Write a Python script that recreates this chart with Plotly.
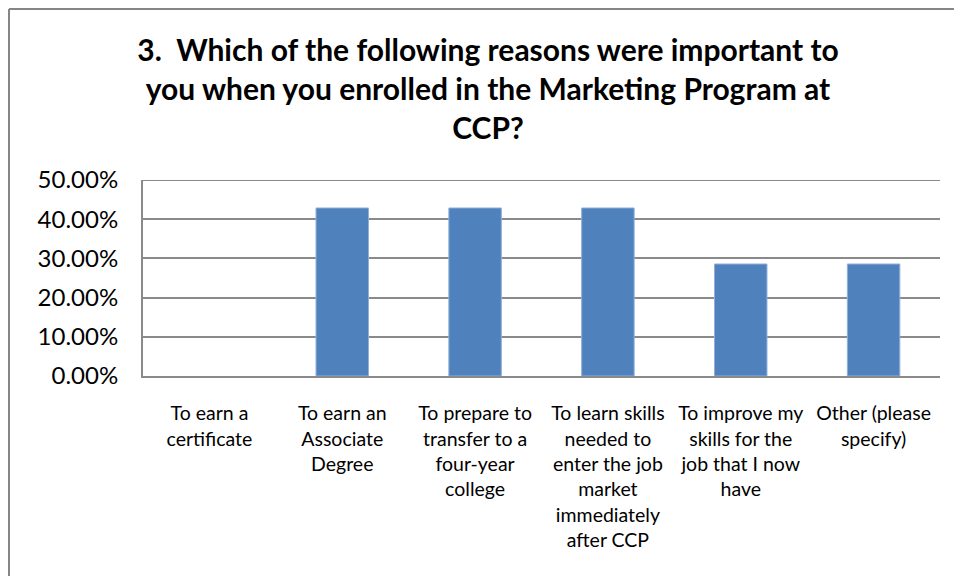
import plotly.graph_objects as go

# Survey question 3: share of respondents citing each reason
categories = [
    "To earn a<br>certificate",
    "To earn an<br>Associate<br>Degree",
    "To prepare to<br>transfer to a<br>four-year<br>college",
    "To learn skills<br>needed to<br>enter the job<br>market<br>immediately<br>after CCP",
    "To improve my<br>skills for the<br>job that I now<br>have",
    "Other (please<br>specify)",
]
shares = [0.0, 0.4286, 0.4286, 0.4286, 0.2857, 0.2857]
y_ticks = [0.0, 0.1, 0.2, 0.3, 0.4, 0.5]

title_text = ("3.  Which of the following reasons were important to<br>"
              "you when you enrolled in the Marketing Program at<br>CCP?")

FONT = "Lato, 'Open Sans', sans-serif"
GRID = "#8a8a8a"
FRAME = "#868686"

fig = go.Figure(
    go.Bar(
        x=categories,
        y=shares,
        marker=dict(
            color="#4F81BD",
            # light outline only on bars that have height
            line=dict(color="#8FB0DA", width=[1 if v > 0 else 0 for v in shares]),
        ),
        hoverinfo="skip",
    )
)

fig.update_layout(
    width=954,
    height=576,
    margin=dict(l=143, r=14, t=180, b=200),
    paper_bgcolor="white",
    plot_bgcolor="white",
    bargap=0.605,
    showlegend=False,
    font=dict(family=FONT, color="#000000"),
    title=dict(
        text=title_text,
        font=dict(family=FONT, size=30, color="#000000", weight=700),
        x=488 / 954,
        xanchor="center",
        xref="container",
        y=1 - 61 / 576,
        yanchor="middle",
        yref="container",
    ),
)

fig.update_xaxes(
    type="category",
    showgrid=False,
    showline=True,
    linecolor=GRID,
    linewidth=2,
    ticks="",
    tickfont=dict(family=FONT, size=19.5, color="#000000"),
    ticklabelstandoff=19,
    tickangle=0,
)

fig.update_yaxes(
    range=[0, 0.5],
    tickvals=y_ticks,
    tickformat=".2%",
    showgrid=True,
    gridcolor=GRID,
    gridwidth=2,
    showline=True,
    linecolor=GRID,
    linewidth=2,
    zeroline=False,
    ticks="",
    tickfont=dict(family=FONT, size=24, color="#000000"),
    ticklabelstandoff=18,
    mirror=False,
)

# Top gridline at 50%
fig.add_shape(type="line", xref="paper", yref="y", x0=0, x1=1, y0=0.5, y1=0.5,
              line=dict(color=GRID, width=2), layer="below")

# Outer chart frame: left and top edges (the rest runs off the canvas)
frame_left = (9 - 143) / 797
frame_top = (376 - 9) / 196
fig.add_shape(type="line", xref="paper", yref="paper",
              x0=frame_left, x1=frame_left, y0=-1.2, y1=frame_top,
              line=dict(color=FRAME, width=2))
fig.add_shape(type="line", xref="paper", yref="paper",
              x0=frame_left, x1=1.2, y0=frame_top, y1=frame_top,
              line=dict(color=FRAME, width=2))

fig.write_html("out.html")
